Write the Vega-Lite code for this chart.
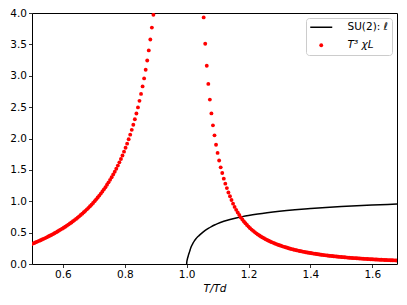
{
  "$schema": "https://vega.github.io/schema/vega-lite/v6.json",
  "width": 365,
  "height": 251,
  "autosize": {"type": "none"},
  "padding": {"left": 32, "top": 13, "right": 10, "bottom": 41},
  "background": "white",
  "config": {
    "font": "DejaVu Sans",
    "view": {"stroke": "black", "strokeWidth": 1},
    "axis": {"grid": false, "domain": false, "tickColor": "black", "tickSize": 3.5, "tickWidth": 0.8, "labelColor": "black", "labelFontSize": 10.5, "labelFont": "DejaVu Sans", "labelPadding": 2}
  },
  "datasets": {
    "ell": [
      {"T":1.000,"v":0},{"T":1.0005,"v":0.035},{"T":1.001,"v":0.050},{"T":1.002,"v":0.075},{"T":1.003,"v":0.093},{"T":1.004,"v":0.110},{"T":1.006,"v":0.145},{"T":1.008,"v":0.175},{"T":1.010,"v":0.205},{"T":1.0125,"v":0.245},{"T":1.015,"v":0.278},{"T":1.020,"v":0.328},{"T":1.025,"v":0.368},{"T":1.030,"v":0.402},{"T":1.035,"v":0.430},{"T":1.040,"v":0.453},{"T":1.050,"v":0.497},{"T":1.060,"v":0.535},{"T":1.070,"v":0.568},{"T":1.080,"v":0.597},{"T":1.090,"v":0.622},{"T":1.100,"v":0.644},{"T":1.120,"v":0.680},{"T":1.140,"v":0.709},{"T":1.160,"v":0.734},{"T":1.180,"v":0.755},{"T":1.200,"v":0.773},{"T":1.230,"v":0.796},{"T":1.260,"v":0.816},{"T":1.300,"v":0.839},{"T":1.350,"v":0.863},{"T":1.400,"v":0.883},{"T":1.450,"v":0.901},{"T":1.500,"v":0.916},{"T":1.550,"v":0.929},{"T":1.600,"v":0.940},{"T":1.650,"v":0.950},{"T":1.680,"v":0.955}
    ],
    "chi": [
      {"T":0.4975,"v":0.315},{"T":0.5025,"v":0.325},{"T":0.5075,"v":0.335},{"T":0.5125,"v":0.346},{"T":0.5175,"v":0.357},{"T":0.5225,"v":0.368},{"T":0.5275,"v":0.379},{"T":0.5325,"v":0.390},{"T":0.5375,"v":0.401},{"T":0.5425,"v":0.413},{"T":0.5475,"v":0.425},{"T":0.5525,"v":0.438},{"T":0.5575,"v":0.450},{"T":0.5625,"v":0.463},{"T":0.5675,"v":0.476},{"T":0.5725,"v":0.490},{"T":0.5775,"v":0.503},{"T":0.5825,"v":0.518},{"T":0.5875,"v":0.533},{"T":0.5925,"v":0.548},{"T":0.5975,"v":0.563},{"T":0.6025,"v":0.578},{"T":0.6075,"v":0.594},{"T":0.6125,"v":0.611},{"T":0.6175,"v":0.628},{"T":0.6225,"v":0.645},{"T":0.6275,"v":0.662},{"T":0.6325,"v":0.681},{"T":0.6375,"v":0.700},{"T":0.6425,"v":0.719},{"T":0.6475,"v":0.739},{"T":0.6525,"v":0.759},{"T":0.6575,"v":0.780},{"T":0.6625,"v":0.802},{"T":0.6675,"v":0.824},{"T":0.6725,"v":0.847},{"T":0.6775,"v":0.871},{"T":0.6825,"v":0.895},{"T":0.6875,"v":0.920},{"T":0.6925,"v":0.946},{"T":0.6975,"v":0.973},{"T":0.7025,"v":1.001},{"T":0.7075,"v":1.030},{"T":0.7125,"v":1.059},{"T":0.7175,"v":1.090},{"T":0.7225,"v":1.122},{"T":0.7275,"v":1.155},{"T":0.7325,"v":1.190},{"T":0.7375,"v":1.225},{"T":0.7425,"v":1.262},{"T":0.7475,"v":1.301},{"T":0.7525,"v":1.341},{"T":0.7575,"v":1.382},{"T":0.7625,"v":1.426},{"T":0.7675,"v":1.471},{"T":0.7725,"v":1.518},{"T":0.7775,"v":1.568},{"T":0.7825,"v":1.620},{"T":0.7875,"v":1.674},{"T":0.7925,"v":1.730},{"T":0.7975,"v":1.790},{"T":0.8025,"v":1.852},{"T":0.8075,"v":1.918},{"T":0.8125,"v":1.988},{"T":0.8175,"v":2.061},{"T":0.8225,"v":2.138},{"T":0.8275,"v":2.219},{"T":0.8325,"v":2.306},{"T":0.8375,"v":2.398},{"T":0.8425,"v":2.496},{"T":0.8475,"v":2.600},{"T":0.8525,"v":2.711},{"T":0.8575,"v":2.830},{"T":0.8625,"v":2.958},{"T":0.8675,"v":3.095},{"T":0.8725,"v":3.243},{"T":0.8775,"v":3.404},{"T":0.8825,"v":3.578},{"T":0.8875,"v":3.767},{"T":0.8925,"v":3.971},
      {"T":1.055,"v":3.93},{"T":1.060,"v":3.51},{"T":1.065,"v":3.16},{"T":1.070,"v":2.87},{"T":1.075,"v":2.62},{"T":1.080,"v":2.40},{"T":1.085,"v":2.21},{"T":1.090,"v":2.05},{"T":1.095,"v":1.90},{"T":1.100,"v":1.77},{"T":1.105,"v":1.65},{"T":1.110,"v":1.54},{"T":1.115,"v":1.45},{"T":1.120,"v":1.36},{"T":1.125,"v":1.28},{"T":1.130,"v":1.21},{"T":1.135,"v":1.14},{"T":1.140,"v":1.08},{"T":1.145,"v":1.02},{"T":1.150,"v":0.962},{"T":1.155,"v":0.910},{"T":1.160,"v":0.863},{"T":1.165,"v":0.820},{"T":1.170,"v":0.780},{"T":1.175,"v":0.743},{"T":1.180,"v":0.709},{"T":1.185,"v":0.678},{"T":1.190,"v":0.649},{"T":1.195,"v":0.621},{"T":1.200,"v":0.596},{"T":1.205,"v":0.571},{"T":1.210,"v":0.548},{"T":1.215,"v":0.528},{"T":1.220,"v":0.508},{"T":1.225,"v":0.489},{"T":1.230,"v":0.472},{"T":1.235,"v":0.455},{"T":1.240,"v":0.439},{"T":1.245,"v":0.424},{"T":1.250,"v":0.410},{"T":1.255,"v":0.396},{"T":1.260,"v":0.383},{"T":1.265,"v":0.371},{"T":1.270,"v":0.359},{"T":1.275,"v":0.348},{"T":1.280,"v":0.337},{"T":1.285,"v":0.327},{"T":1.290,"v":0.317},{"T":1.295,"v":0.307},{"T":1.300,"v":0.298},{"T":1.305,"v":0.290},{"T":1.310,"v":0.281},{"T":1.315,"v":0.273},{"T":1.320,"v":0.266},{"T":1.325,"v":0.258},{"T":1.330,"v":0.251},{"T":1.335,"v":0.244},{"T":1.340,"v":0.238},{"T":1.345,"v":0.231},{"T":1.350,"v":0.225},{"T":1.355,"v":0.219},{"T":1.360,"v":0.214},{"T":1.365,"v":0.208},{"T":1.370,"v":0.203},{"T":1.375,"v":0.198},{"T":1.380,"v":0.193},{"T":1.385,"v":0.188},{"T":1.390,"v":0.183},{"T":1.395,"v":0.179},{"T":1.400,"v":0.175},{"T":1.405,"v":0.171},{"T":1.410,"v":0.166},{"T":1.415,"v":0.163},{"T":1.420,"v":0.159},{"T":1.425,"v":0.155},{"T":1.430,"v":0.151},{"T":1.435,"v":0.148},{"T":1.440,"v":0.145},{"T":1.445,"v":0.141},{"T":1.450,"v":0.138},{"T":1.455,"v":0.135},{"T":1.460,"v":0.132},{"T":1.465,"v":0.129},{"T":1.470,"v":0.127},{"T":1.475,"v":0.124},{"T":1.480,"v":0.121},{"T":1.485,"v":0.119},{"T":1.490,"v":0.116},{"T":1.495,"v":0.114},{"T":1.500,"v":0.111},{"T":1.505,"v":0.109},{"T":1.510,"v":0.107},{"T":1.515,"v":0.105},{"T":1.520,"v":0.102},{"T":1.525,"v":0.100},{"T":1.530,"v":0.098},{"T":1.535,"v":0.096},{"T":1.540,"v":0.094},{"T":1.545,"v":0.093},{"T":1.550,"v":0.091},{"T":1.555,"v":0.089},{"T":1.560,"v":0.087},{"T":1.565,"v":0.086},{"T":1.570,"v":0.084},{"T":1.575,"v":0.082},{"T":1.580,"v":0.081},{"T":1.585,"v":0.079},{"T":1.590,"v":0.078},{"T":1.595,"v":0.076},{"T":1.600,"v":0.075},{"T":1.605,"v":0.073},{"T":1.610,"v":0.072},{"T":1.615,"v":0.071},{"T":1.620,"v":0.069},{"T":1.625,"v":0.068},{"T":1.630,"v":0.067},{"T":1.635,"v":0.066},{"T":1.640,"v":0.064},{"T":1.645,"v":0.063},{"T":1.650,"v":0.062},{"T":1.655,"v":0.061},{"T":1.660,"v":0.060},{"T":1.665,"v":0.059},{"T":1.670,"v":0.058},{"T":1.675,"v":0.057},{"T":1.680,"v":0.056}
    ]
  },
  "encoding": {
    "x": {"field": "T", "type": "quantitative", "scale": {"domain": [0.5, 1.68], "nice": false, "zero": false},
      "axis": {"values": [0.6, 0.8, 1.0, 1.2, 1.4, 1.6], "format": ".1f", "title": "T/Td", "titleFontStyle": "italic", "titleFontWeight": "normal", "titleFontSize": 10.5, "titleColor": "black", "titlePadding": 3}},
    "y": {"field": "v", "type": "quantitative", "scale": {"domain": [0, 4], "nice": false},
      "axis": {"values": [0, 0.5, 1, 1.5, 2, 2.5, 3, 3.5, 4], "format": ".1f", "title": null}}
  },
  "layer": [
    {
      "data": {"name": "ell"},
      "mark": {"type": "line", "strokeWidth": 1.5, "interpolate": "monotone"},
      "encoding": {
        "color": {"datum": "SU(2): ℓ", "type": "nominal",
          "scale": {"domain": ["SU(2): ℓ", "T³ χL"], "range": ["#000000", "#ff0000"]},
          "legend": {"title": null, "orient": "top-right", "offset": 5, "padding": 4, "fillColor": "white", "strokeColor": "#cccccc", "cornerRadius": 3, "symbolSize": 81, "symbolOffset": 6, "labelOffset": 21, "rowPadding": 7, "labelFontSize": 10.5, "labelColor": "black", "labelFont": "DejaVu Sans",
            "encode": {
              "symbols": {"update": {
                "shape": {"signal": "datum.value === 'SU(2): ℓ' ? 'stroke' : 'circle'"},
                "size": {"signal": "datum.value === 'SU(2): ℓ' ? 484 : 15"},
                "strokeWidth": {"signal": "datum.value === 'SU(2): ℓ' ? 1.5 : 0"},
                "fill": {"signal": "datum.value === 'SU(2): ℓ' ? 'transparent' : '#ff0000'"},
                "stroke": {"signal": "datum.value === 'SU(2): ℓ' ? '#000000' : 'transparent'"},
                "opacity": {"value": 1}
              }},
              "labels": {"update": {
                "fontStyle": {"signal": "datum.value === 'SU(2): ℓ' ? 'normal' : 'italic'"}
              }}
            }
          }
        }
      }
    },
    {
      "data": {"name": "chi"},
      "mark": {"type": "circle", "size": 15, "opacity": 1, "clip": true},
      "encoding": {
        "color": {"datum": "T³ χL", "type": "nominal"}
      }
    }
  ]
}
